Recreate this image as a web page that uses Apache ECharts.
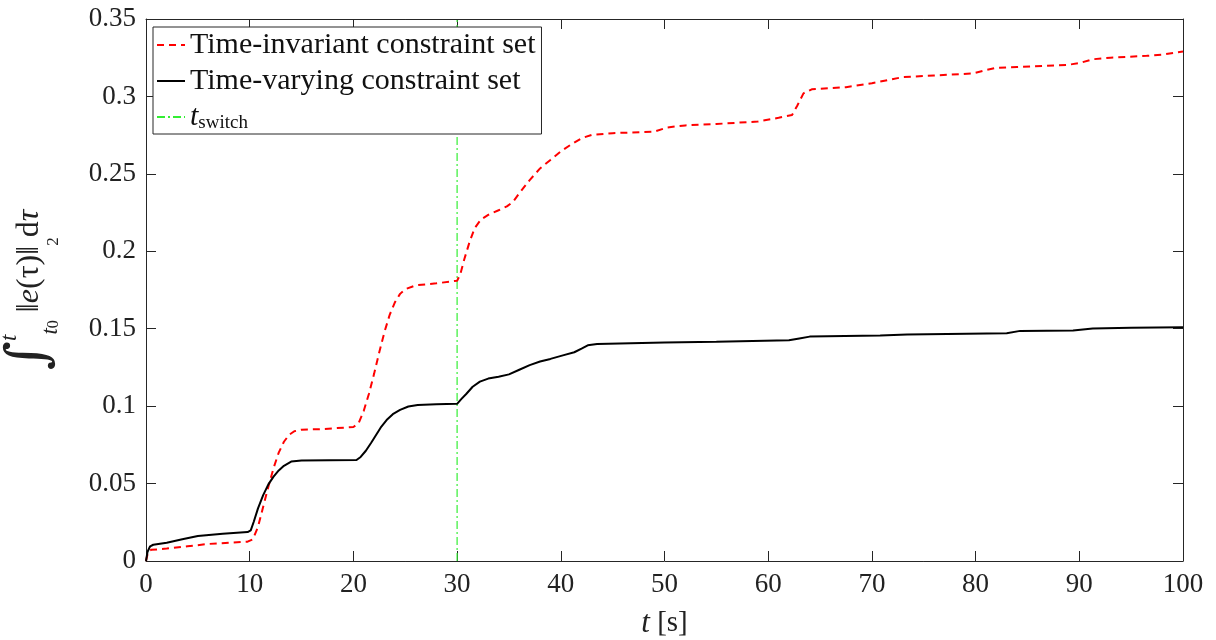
<!DOCTYPE html>
<html>
<head>
<meta charset="utf-8">
<script src="https://cdn.jsdelivr.net/npm/echarts@6/dist/echarts.min.js"></script>
<style>html,body{margin:0;padding:0;background:#fff}#c{width:1216px;height:640px}</style>
</head>
<body>
<div id="c"></div>
<script>
// ---- data ----
const invariantTime = [0,0.2,0.5,2,4,6,8,9.8,10.3,10.8,11.3,11.8,12.3,12.8,13.3,13.8,14.3,15,17,20,20.5,21,21.5,22,22.5,23,23.5,24,24.5,25,26,28,30,30.3,30.7,31.2,31.7,32.3,33,34,34.8,35.4,36,37,38,39,40,41,42,43,45,49,50.3,52,55,59,61,62.3,62.8,63.4,64.2,67.5,70,71.7,73,76,79.7,81,82,84,88.8,90,91.3,93,96.5,98,100];
const invariantValues = [0,0.006,0.0072,0.008,0.0095,0.011,0.0118,0.0125,0.014,0.022,0.035,0.048,0.06,0.07,0.077,0.0815,0.0838,0.0848,0.0852,0.0865,0.089,0.097,0.108,0.121,0.135,0.148,0.159,0.167,0.1725,0.1755,0.178,0.1793,0.181,0.185,0.195,0.206,0.215,0.2205,0.2235,0.2265,0.229,0.232,0.2375,0.246,0.2535,0.259,0.2645,0.269,0.273,0.2752,0.2763,0.2772,0.28,0.2813,0.2822,0.2838,0.2862,0.288,0.294,0.302,0.3046,0.306,0.3085,0.3108,0.3125,0.3135,0.3148,0.317,0.3185,0.319,0.3203,0.3215,0.324,0.325,0.3262,0.327,0.329];
const varyingTime = [0,0.15,0.4,0.7,2,3.5,5,7.4,9.8,10.1,10.4,10.8,11.3,11.8,12.3,12.8,13.3,14,15,20.3,20.7,21.2,21.7,22.2,22.7,23.2,23.8,24.5,25.3,26.2,28,30,30.4,30.9,31.5,32.2,33,34,35,36,37,38,39,40.2,41.3,42,42.6,43.5,50,55,62,63,64,70.8,73.4,83,84.3,89.4,91.3,95,100];
const varyingValues = [0,0.006,0.0095,0.0105,0.0118,0.014,0.0162,0.0176,0.0187,0.0198,0.0255,0.034,0.0425,0.0495,0.0545,0.0585,0.0615,0.0642,0.0649,0.0652,0.0672,0.0712,0.0762,0.0815,0.0868,0.091,0.0948,0.0976,0.0998,0.1008,0.1012,0.1015,0.1045,0.108,0.1125,0.1158,0.1178,0.119,0.1205,0.1235,0.1265,0.1288,0.1305,0.1328,0.1348,0.1372,0.1393,0.1401,0.1411,0.1416,0.1425,0.1437,0.1449,0.1456,0.1463,0.1471,0.1486,0.1489,0.1502,0.1507,0.151];
const switchTime = 30;
const seriesNames = ['Time-invariant constraint set','Time-varying constraint set','t_switch'];
const xTicks = [0,10,20,30,40,50,60,70,80,90,100];
const yTicks = [0,0.05,0.1,0.15,0.2,0.25,0.3,0.35];

const xMin = xTicks[0], xMax = xTicks[xTicks.length-1];
const yMin = yTicks[0], yMax = yTicks[yTicks.length-1];
const zip = (a,b)=>a.map((v,i)=>[v,b[i]]);

const FONT = '"Liberation Serif","DejaVu Serif",serif';
const AX = '#262626';

const chart = echarts.init(document.getElementById('c'));
const axisCommon = {
  axisLine:{show:true,onZero:false,lineStyle:{color:AX,width:1}},
  axisTick:{show:true,inside:true,length:10,lineStyle:{color:AX,width:1}},
  splitLine:{show:false}
};
chart.setOption({
  animation:false,
  backgroundColor:'#fff',
  grid:{left:146,right:33,top:19,bottom:79,containLabel:false,outerBoundsMode:'none'},
  legend:{
    orient:'vertical',left:153,top:27,
    padding:[2,6,1,3],itemGap:4,itemWidth:28,itemHeight:14,
    borderColor:AX,borderWidth:1,backgroundColor:'#fff',
    itemStyle:{opacity:0},
    data:seriesNames,
    formatter:n=> n==='t_switch' ? '{it|t}{sub|switch}' : n,
    textStyle:{fontFamily:FONT,fontSize:30,color:'#111',lineHeight:32,
      rich:{it:{fontFamily:FONT,fontStyle:'italic',fontSize:30,lineHeight:32,color:'#111'},
            sub:{fontFamily:FONT,fontSize:19,lineHeight:26,verticalAlign:'bottom',color:'#111'}}}
  },
  xAxis:[Object.assign({type:'value',min:xMin,max:xMax,interval:10,position:'bottom',
      axisLabel:{fontFamily:FONT,fontSize:27,color:'#222',margin:10},
      name:'{i|t} [s]',nameLocation:'middle',nameGap:47,
      nameTextStyle:{fontFamily:FONT,fontSize:29,color:'#222',
        rich:{i:{fontFamily:FONT,fontStyle:'italic',fontSize:31,color:'#222'}}}
    },axisCommon),
    Object.assign({type:'value',min:xMin,max:xMax,interval:10,position:'top',axisLabel:{show:false}},axisCommon)],
  yAxis:[Object.assign({type:'value',min:yMin,max:yMax,interval:0.05,position:'left',
      axisLabel:{fontFamily:FONT,fontSize:27,color:'#222',margin:10},
      name:'{int|∫}{sup|t}{sub|t}{s0|0} ‖{i|e}(τ)‖{s2|2}d{i|τ}',
      nameLocation:'middle',nameGap:84,nameRotate:90,
      nameTextStyle:{fontFamily:FONT,fontSize:32,color:'#222',lineHeight:64,
        rich:{
          int:{fontFamily:'"DejaVu Serif",serif',fontSize:56,lineHeight:64,color:'#222'},
          sup:{fontFamily:FONT,fontStyle:'italic',fontSize:23,lineHeight:64,verticalAlign:'top',color:'#222'},
          sub:{fontFamily:FONT,fontStyle:'italic',fontSize:23,lineHeight:56,verticalAlign:'bottom',color:'#222'},
          s0:{fontFamily:FONT,fontSize:16,lineHeight:52,verticalAlign:'bottom',color:'#222'},
          s2:{fontFamily:FONT,fontSize:17,lineHeight:44,verticalAlign:'bottom',color:'#222'},
          i:{fontFamily:FONT,fontStyle:'italic',fontSize:32,color:'#222'}
        }}
    },axisCommon),
    Object.assign({type:'value',min:yMin,max:yMax,interval:0.05,position:'right',axisLabel:{show:false}},axisCommon)],
  series:[
    {name:seriesNames[0],type:'line',showSymbol:false,symbol:'none',
     data:zip(invariantTime,invariantValues),
     lineStyle:{color:'#ff0000',width:2,type:[7,5]},itemStyle:{color:'#ff0000'},z:3},
    {name:seriesNames[1],type:'line',showSymbol:false,symbol:'none',
     data:zip(varyingTime,varyingValues),
     lineStyle:{color:'#000',width:2,type:'solid'},itemStyle:{color:'#000'},z:4},
    {name:seriesNames[2],type:'line',showSymbol:false,symbol:'none',
     data:[[switchTime,yMin],[switchTime,yMax]],
     lineStyle:{color:'#33ee33',width:1.2,type:[8,3,2,3]},itemStyle:{color:'#33ee33'},z:2}
  ]
});
</script>
</body>
</html>
